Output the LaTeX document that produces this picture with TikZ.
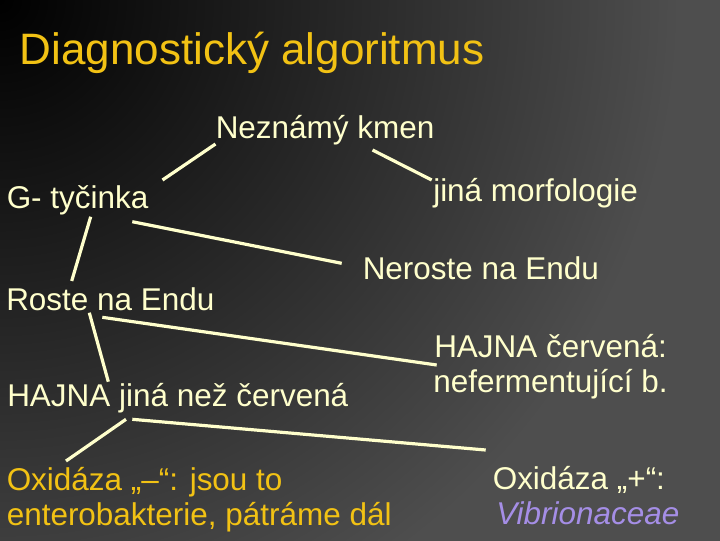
\documentclass[tikz,border=0pt]{standalone}
\usepackage{fontspec}
\setmainfont{Liberation Sans}
\usepackage{xcolor}
\usetikzlibrary{calc}

\definecolor{cream}{RGB}{255,255,204}
\definecolor{gold}{RGB}{242,194,20}
\definecolor{lilac}{RGB}{165,142,230}
\definecolor{bggray}{RGB}{78,78,78}
\pgfdeclareradialshading{bgglow}{\pgfpoint{0bp}{0bp}}{color(0bp)=(black); color(17bp)=(bggray); color(50bp)=(bggray)}

\begin{document}
\begin{tikzpicture}[x=0.75pt,y=0.75pt,yscale=-1,xscale=1,
  txt/.style={anchor=base west,inner sep=0pt,text=cream,font=\fontsize{23.6}{28}\selectfont},
  ttl/.style={anchor=base west,inner sep=0pt,text=gold,font=\fontsize{33}{40}\selectfont},
  link/.style={draw=cream,line width=2.4pt}]
\useasboundingbox (0,0) rectangle (720,540);

%Background
\begin{scope}
\clip (-4,-4) rectangle (724,544);
\shade[shading=bgglow] (0,0) circle (1000);
\end{scope}

% Title
\node[ttl] (tit) at (19.5,64) {Diagnostický algoritmus};

% Text Node
\node[txt] (nez) at (215.5,138) {Neznámý kmen};
% Text Node
\node[txt] (gtyc) at (6.5,208) {G- tyčinka};
% Text Node
\node[txt] (jina) at (433,201) {jiná morfologie};
% Text Node
\node[txt] (nero) at (362.5,279) {Neroste na Endu};
% Text Node
\node[txt] (roste) at (6,310) {Roste na Endu};
% Text Node
\node[txt] (hcerv) at (434,357) {HAJNA červená:};
\node[txt] (nefer) at (433,392) {nefermentující b.};
% Text Node
\node[txt] (hjina) at (7,406) {HAJNA jiná než červená};
% Text Node
\node[txt,text=gold] (oxm) at (6.5,490) {Oxidáza „–“: jsou to};
\node[txt,text=gold] (enter) at (6.5,525) {enterobakterie, pátráme dál};
% Text Node
\node[txt] (oxp) at (492.5,489) {Oxidáza „+“:};
\node[txt,text=lilac] (vibr) at (496,524) {\itshape Vibrionaceae};

%Straight Lines
\draw[link] ($(nez.base west)+(0,6)$) -- ($(gtyc.base west)+(156,-28)$);
\draw[link] ($(nez.base west)+(157,12)$) -- ($(jina.base west)+(-1.3,-21)$);
%Straight Lines
\draw[link] ($(gtyc.base west)+(125.8,13.7)$) -- ($(nero.base west)+(-20.8,-15.7)$);
\draw[link] ($(gtyc.base west)+(84.2,8.7)$) -- ($(roste.base west)+(65.7,-29)$);
%Straight Lines
\draw[link] ($(roste.base west)+(96.3,7.3)$) -- ($(hcerv.base west)+(2.7,8)$);
\draw[link] ($(roste.base west)+(83.3,2.7)$) -- ($(hjina.base west)+(101.3,-24.3)$);
%Straight Lines
\draw[link] ($(hjina.base west)+(119,13.3)$) -- ($(oxm.base west)+(59.5,-29)$);
\draw[link] ($(hjina.base west)+(125.3,13.3)$) -- ($(oxp.base west)+(-6.8,-39)$);

\end{tikzpicture}
\end{document}
